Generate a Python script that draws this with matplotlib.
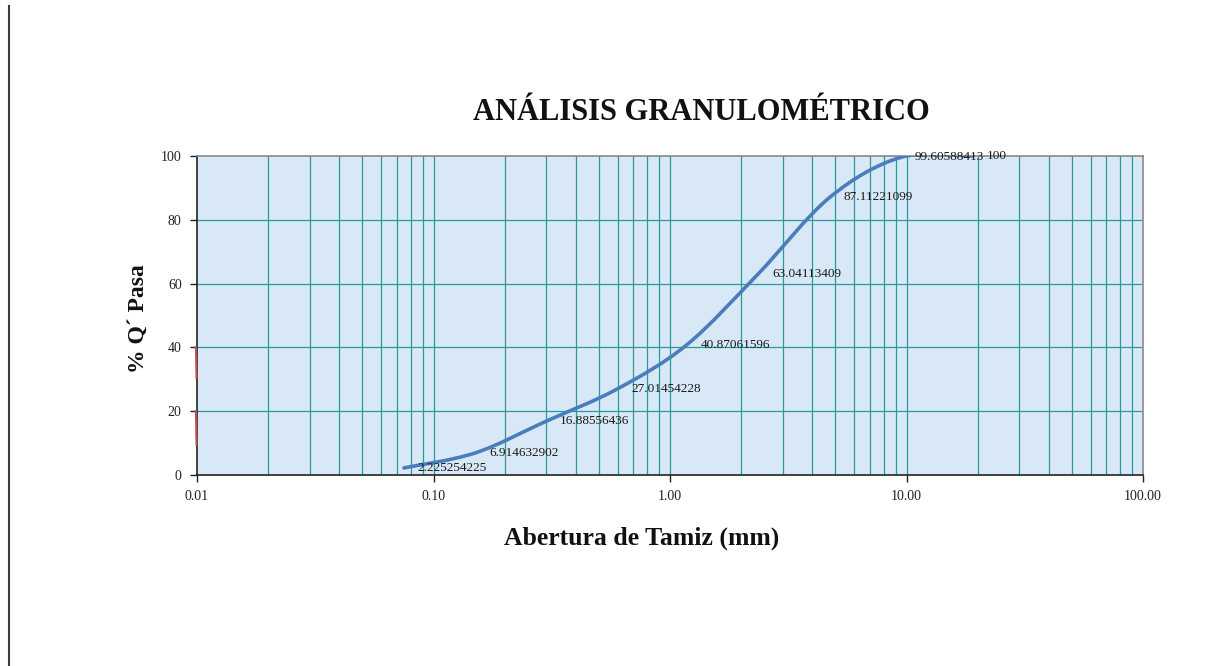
import numpy as np
import matplotlib
matplotlib.use("Agg")
import matplotlib.pyplot as plt
from matplotlib.path import Path
from matplotlib.patches import PathPatch
from matplotlib.lines import Line2D

# ---- data ----
aberturas = [0.075, 0.15, 0.30, 0.60, 1.18, 2.36, 4.75, 9.50, 19.05]
pasa = [2.225254225, 6.914632902, 16.88556436, 27.01454228, 40.87061596,
        63.04113409, 87.11221099, 99.60588413, 100]
etiquetas = ["2.225254225", "6.914632902", "16.88556436", "27.01454228", "40.87061596",
             "63.04113409", "87.11221099", "99.60588413", "100"]
rojo_y1 = [40, 30.5]
rojo_y2 = [20, 9.5]
rojo_x = [0.0099, 0.00995]
xticks = [0.01, 0.1, 1, 10, 100]
xticklabels = ["0.01", "0.10", "1.00", "10.00", "100.00"]
yticks = [0, 20, 40, 60, 80, 100]

serif = ["Liberation Serif", "DejaVu Serif"]

fig = plt.figure(figsize=(12.11, 6.66), dpi=100)
fig.patch.set_facecolor("white")
ax = fig.add_axes([197/1211, 1-475/666, (1143-197)/1211, (475-156)/666])
ax.set_facecolor("#d9e8f7")
ax.set_xscale("log")
ax.set_xlim(0.01, 100)
ax.set_ylim(0, 100)

# grid
grid_c = "#2a9a9a"
for dec in [0.01, 0.1, 1, 10]:
    for m in range(1, 10):
        v = dec * m
        if 0.01 < v < 100:
            ax.axvline(v, color=grid_c, lw=0.9, zorder=1)
for yv in [20, 40, 60, 80]:
    ax.axhline(yv, color=grid_c, lw=0.9, zorder=1)

# smoothed curve (Catmull-Rom -> Bezier in log-x space)
lx = np.log10(aberturas)
py = np.array(pasa, dtype=float)
n = len(lx)
verts = [(aberturas[0], py[0])]
codes = [Path.MOVETO]
for i in range(n - 1):
    i0 = max(i - 1, 0)
    i3 = min(i + 2, n - 1)
    c1x = lx[i] + (lx[i + 1] - lx[i0]) / 6
    c1y = py[i] + (py[i + 1] - py[i0]) / 6
    c2x = lx[i + 1] - (lx[i3] - lx[i]) / 6
    c2y = py[i + 1] - (py[i3] - py[i]) / 6
    verts += [(10 ** c1x, c1y), (10 ** c2x, c2y), (aberturas[i + 1], py[i + 1])]
    codes += [Path.CURVE4] * 3
curve = PathPatch(Path(verts, codes), facecolor="none", edgecolor="#4a7ebb",
                  lw=2.6, zorder=3, capstyle="round")
ax.add_patch(curve)

for xv, yv, t in zip(aberturas, pasa, etiquetas):
    ax.annotate(t, (xv, yv), xytext=(10, 0), textcoords="offset points",
                va="center", ha="left", fontsize=9.5, family=serif,
                color="#1a1a1a", zorder=4, annotation_clip=False)

ax.plot(rojo_x, rojo_y1, color="#c0504d", lw=1.5, clip_on=False, zorder=5)
ax.plot(rojo_x, rojo_y2, color="#c0504d", lw=1.5, clip_on=False, zorder=5)

ax.set_xticks(xticks)
ax.set_xticklabels(xticklabels)
ax.xaxis.set_minor_locator(matplotlib.ticker.NullLocator())
ax.set_yticks(yticks)
for lab in ax.get_xticklabels() + ax.get_yticklabels():
    lab.set_family(serif)
    lab.set_fontsize(10)
    lab.set_color("#222222")
ax.tick_params(axis="both", direction="out", length=5, width=1, color="#222222", pad=6)

for s in ["top", "right"]:
    ax.spines[s].set_color("#8a8a8a")
    ax.spines[s].set_linewidth(1.2)
for s in ["left", "bottom"]:
    ax.spines[s].set_color("#222222")
    ax.spines[s].set_linewidth(1.2)

fig.text(701/1211, 1-112/666, "ANÁLISIS GRANULOMÉTRICO", ha="center", va="center",
         fontsize=22, fontweight="bold", family=serif, color="#111111")
fig.text(642/1211, 1-538/666, "Abertura de Tamiz (mm)", ha="center", va="center",
         fontsize=18.5, fontweight="bold", family=serif, color="#111111")
fig.text(138/1211, 1-319/666, "% Q´ Pasa", ha="center", va="center", rotation=90,
         fontsize=17, fontweight="bold", family=serif, color="#111111")

fig.add_artist(Line2D([8.5/1211, 8.5/1211], [0, 1-6/666], color="#3a3a44", lw=1.5))

fig.savefig("out.png", dpi=100)
